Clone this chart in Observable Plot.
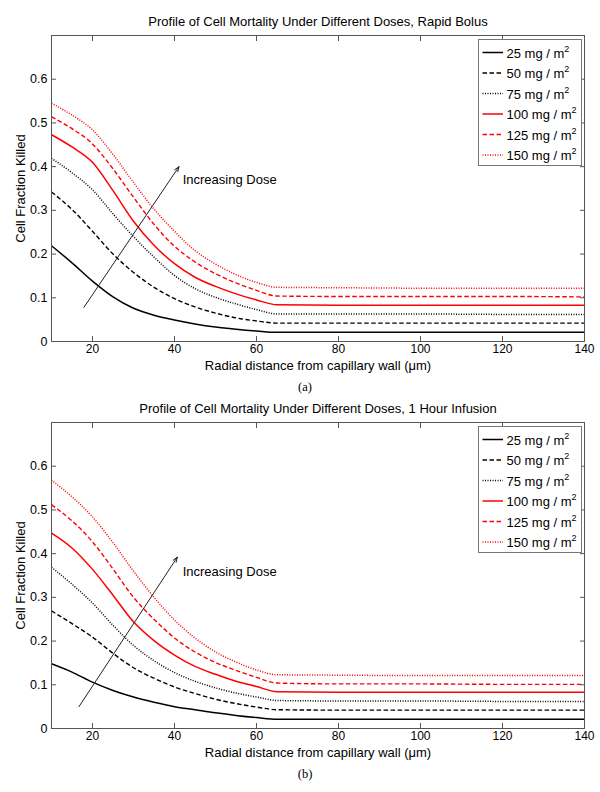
<!DOCTYPE html>
<html>
<head>
<meta charset="utf-8">
<script src="https://cdn.jsdelivr.net/npm/d3@7"></script>
<script src="https://cdn.jsdelivr.net/npm/@observablehq/plot@0.6"></script>
<style>
  html, body { margin: 0; padding: 0; background: #fff; }
  #wrap { position: relative; width: 600px; height: 792px; overflow: hidden; }
  .panel { position: absolute; left: 0; width: 600px; }
  .legend { position: absolute; }
</style>
</head>
<body>
<div id="wrap"></div>
<script>
// ---------------- data ----------------
const distance = [10, 15, 20, 25, 30, 35, 40, 45, 50, 55, 60, 65, 80, 100, 120, 140];
const doseLabels = ["25", "50", "75", "100", "125", "150"];

// (a) Rapid Bolus
const bolus25  = [0.219, 0.180, 0.138, 0.102, 0.076, 0.060, 0.049, 0.040, 0.033, 0.028, 0.024, 0.021, 0.021, 0.021, 0.021, 0.021];
const bolus50  = [0.342, 0.302, 0.252, 0.200, 0.158, 0.124, 0.098, 0.079, 0.065, 0.054, 0.047, 0.042, 0.042, 0.042, 0.042, 0.042];
const bolus75  = [0.419, 0.386, 0.347, 0.292, 0.240, 0.193, 0.151, 0.121, 0.101, 0.086, 0.073, 0.063, 0.063, 0.063, 0.062, 0.062];
const bolus100 = [0.473, 0.445, 0.410, 0.345, 0.275, 0.220, 0.178, 0.147, 0.126, 0.109, 0.095, 0.084, 0.083, 0.083, 0.083, 0.083];
const bolus125 = [0.514, 0.487, 0.452, 0.395, 0.330, 0.268, 0.218, 0.182, 0.155, 0.134, 0.117, 0.104, 0.103, 0.103, 0.103, 0.102];
const bolus150 = [0.545, 0.518, 0.484, 0.428, 0.364, 0.303, 0.252, 0.208, 0.177, 0.153, 0.135, 0.124, 0.123, 0.122, 0.122, 0.122];

// (b) 1 Hour Infusion
const infusion25  = [0.148, 0.129, 0.106, 0.087, 0.072, 0.060, 0.050, 0.043, 0.036, 0.030, 0.025, 0.021, 0.021, 0.021, 0.021, 0.021];
const infusion50  = [0.269, 0.240, 0.209, 0.172, 0.139, 0.115, 0.095, 0.080, 0.067, 0.057, 0.049, 0.043, 0.042, 0.042, 0.042, 0.042];
const infusion75  = [0.369, 0.330, 0.287, 0.236, 0.190, 0.155, 0.128, 0.108, 0.093, 0.081, 0.072, 0.064, 0.063, 0.063, 0.062, 0.062];
const infusion100 = [0.447, 0.413, 0.364, 0.305, 0.244, 0.201, 0.168, 0.142, 0.124, 0.108, 0.096, 0.084, 0.083, 0.083, 0.083, 0.083];
const infusion125 = [0.512, 0.475, 0.427, 0.365, 0.300, 0.250, 0.207, 0.175, 0.151, 0.133, 0.117, 0.104, 0.102, 0.102, 0.101, 0.101];
const infusion150 = [0.568, 0.530, 0.484, 0.425, 0.360, 0.300, 0.248, 0.207, 0.175, 0.152, 0.134, 0.123, 0.122, 0.121, 0.121, 0.121];

const xTicks = [20, 40, 60, 80, 100, 120, 140];
const yTicks = [0, 0.1, 0.2, 0.3, 0.4, 0.5, 0.6];

const titleA = "Profile of Cell Mortality Under Different Doses, Rapid Bolus";
const titleB = "Profile of Cell Mortality Under Different Doses, 1 Hour Infusion";
const xLabel = "Radial distance from capillary wall (\u03bcm)";
const yLabel = "Cell Fraction Killed";
const arrowText = "Increasing Dose";

// annotation arrows (data coordinates: distance, fraction)
const arrowA = {x1: 17.9, y1: 0.078, x2: 41.1, y2: 0.400, tx: 42, ty: 0.370};
const arrowB = {x1: 16.7, y1: 0.050, x2: 40.7, y2: 0.392, tx: 42, ty: 0.359};

// ---------------- styles ----------------
const seriesStyle = [
  {color: "#000000", width: 1.5, dash: null},
  {color: "#000000", width: 1.4, dash: "4.5,2.5"},
  {color: "#000000", width: 1.5, dash: "1,1.5"},
  {color: "#ff0000", width: 1.5, dash: null},
  {color: "#ff0000", width: 1.4, dash: "4.5,2.5"},
  {color: "#ff0000", width: 1.5, dash: "1,1.5"}
];
const FONT = "'Liberation Sans', Arial, Helvetica, sans-serif";
const AXIS = "#555";

const wrap = document.getElementById("wrap");

function makePanel({top, height, marginTop, marginBottom, title, series, caption, arrow}) {
  const marks = [];
  series.forEach((vals, k) => {
    const st = seriesStyle[k];
    const pts = distance.map((x, i) => ({x, v: vals[i]}));
    marks.push(Plot.line(pts, {
      x: "x", y: "v", stroke: st.color, strokeWidth: st.width,
      strokeDasharray: st.dash, strokeLinecap: "butt", curve: "monotone-x"
    }));
  });
  const ymt = (d) => d === 0 ? "0" : d3.format(".1f")(d);
  marks.push(
    Plot.frame({stroke: AXIS, strokeWidth: 1}),
    Plot.axisX(xTicks, {anchor: "bottom", tickSize: 0, tickPadding: 3, label: null, fontSize: 12, color: "#000"}),
    Plot.axisX(xTicks, {anchor: "bottom", tickSize: -5, tickFormat: () => "", label: null, stroke: AXIS}),
    Plot.axisX(xTicks, {anchor: "top", tickSize: -5, tickFormat: () => "", label: null, stroke: AXIS}),
    Plot.axisY(yTicks, {anchor: "left", tickSize: 0, tickPadding: 4, tickFormat: ymt, label: null, fontSize: 12.5}),
    Plot.axisY(yTicks, {anchor: "left", tickSize: -5, tickFormat: () => "", label: null, stroke: AXIS}),
    Plot.axisY(yTicks, {anchor: "right", tickSize: -5, tickFormat: () => "", label: null, stroke: AXIS}),
    Plot.arrow([arrow], {x1: "x1", y1: "y1", x2: "x2", y2: "y2", stroke: "#222", strokeWidth: 1, headLength: 8, headAngle: 40}),
    Plot.text([arrowText], {x: () => arrow.tx, y: () => arrow.ty, textAnchor: "start", lineAnchor: "middle", fontSize: 13, fill: "#000"}),
    Plot.text([title], {frameAnchor: "top", dy: -14, textAnchor: "middle", lineAnchor: "middle", fontSize: 13, fill: "#000"}),
    Plot.text([xLabel], {frameAnchor: "bottom", dy: 24, textAnchor: "middle", lineAnchor: "middle", fontSize: 13, fill: "#000"}),
    Plot.text([yLabel], {frameAnchor: "left", dx: -31, rotate: -90, textAnchor: "middle", lineAnchor: "middle", fontSize: 13, fill: "#000"}),
    Plot.text([caption], {frameAnchor: "bottom", dy: 45.5, dx: -13, textAnchor: "middle", lineAnchor: "middle", fontSize: 12.5, fontFamily: "'Liberation Serif', 'Times New Roman', serif", fill: "#000"})
  );

  const chart = Plot.plot({
    width: 600,
    height,
    marginTop,
    marginBottom,
    marginLeft: 51,
    marginRight: 16,
    x: {domain: [10, 140], label: null},
    y: {domain: [0, 0.7], label: null},
    style: {fontFamily: FONT, fontSize: "12.5px", background: "white", color: "#000", overflow: "visible"},
    marks
  });
  const div = document.createElement("div");
  div.className = "panel";
  div.style.top = top + "px";
  div.appendChild(chart);
  wrap.appendChild(div);

  // legend box (top-right inside plot area)
  const lw = 103, lh = 126, rowGap = 20.5;
  const legend = d3.create("svg")
    .attr("class", "legend")
    .attr("width", lw + 2).attr("height", lh + 2)
    .style("left", (478 - 1) + "px")
    .style("top", (top + marginTop + 4 - 1) + "px");
  legend.append("rect").attr("x", 1.5).attr("y", 1.5).attr("width", lw).attr("height", lh)
    .attr("fill", "#fff").attr("stroke", "#777").attr("stroke-width", 1);
  doseLabels.forEach((lab, k) => {
    const st = seriesStyle[k];
    const cy = 14.5 + k * rowGap;
    legend.append("line").attr("x1", 5.5).attr("x2", 26).attr("y1", cy).attr("y2", cy)
      .attr("stroke", st.color).attr("stroke-width", st.width)
      .attr("stroke-dasharray", st.dash);
    const t = legend.append("text").attr("x", 29.5).attr("y", cy + 5)
      .attr("font-family", FONT).attr("font-size", 13).attr("fill", "#000");
    t.append("tspan").text(lab + " mg / m");
    t.append("tspan").attr("dy", -6).attr("font-size", 9).text("2");
  });
  wrap.appendChild(legend.node());
}

makePanel({top: 0, height: 395, marginTop: 35, marginBottom: 54, title: titleA,
  series: [bolus25, bolus50, bolus75, bolus100, bolus125, bolus150], caption: "(a)", arrow: arrowA});
makePanel({top: 395, height: 397, marginTop: 27, marginBottom: 64, title: titleB,
  series: [infusion25, infusion50, infusion75, infusion100, infusion125, infusion150], caption: "(b)", arrow: arrowB});
</script>
</body>
</html>
